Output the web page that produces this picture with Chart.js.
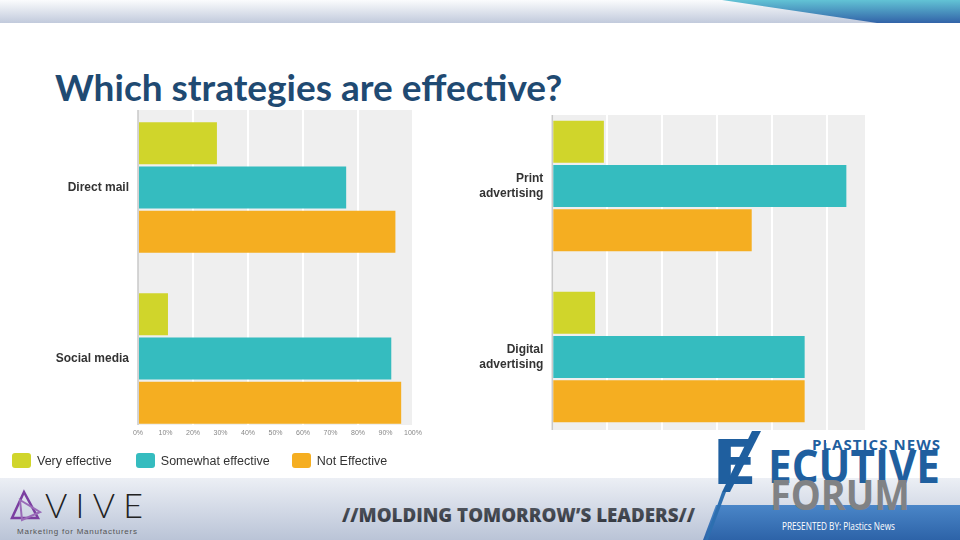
<!DOCTYPE html>
<html>
<head>
<meta charset="utf-8">
<script src="https://cdn.jsdelivr.net/npm/chart.js@4.4.0/dist/chart.umd.min.js"></script>
<style>
  html, body { margin: 0; padding: 0; }
  body { width: 960px; height: 540px; position: relative; overflow: hidden; background: #fff; font-family: "Liberation Sans", Arial, sans-serif; }
  #topband { position: absolute; left: 0; top: 0; width: 960px; height: 23px; background: linear-gradient(#fbfcfd, #c1cadc); }
  #title { position: absolute; left: 55px; top: 64px; font-family: Lato, "Open Sans", sans-serif; font-weight: 700; font-size: 37px; color: #1f4a72; white-space: nowrap; }
  #bottomband { position: absolute; left: 0; top: 478px; width: 960px; height: 62px; background: linear-gradient(#eceff5, #bac4d7); }
  #legend { position: absolute; left: 12px; top: 452px; height: 17px; display: flex; align-items: center; font-size: 12.5px; color: #333; }
  #legend .item { display: flex; align-items: center; }
  #legend .box { width: 19px; height: 15px; border-radius: 3px; margin-right: 6px; }
  canvas { position: absolute; }
  svg { position: absolute; left: 0; top: 0; }
</style>
</head>
<body>
<div id="topband"></div>
<div id="bottomband"></div>
<svg width="960" height="540">
  <defs>
    <linearGradient id="topblue" x1="0" y1="0" x2="0" y2="1">
      <stop offset="0" stop-color="#62c3d5"/>
      <stop offset="1" stop-color="#3263a8"/>
    </linearGradient>
    <linearGradient id="barblue" x1="0" y1="0" x2="0" y2="1">
      <stop offset="0" stop-color="#4a86c8"/>
      <stop offset="1" stop-color="#2d63a8"/>
    </linearGradient>
    <linearGradient id="slogan" x1="0" y1="0" x2="0" y2="1">
      <stop offset="0" stop-color="#5a5f68"/>
      <stop offset="1" stop-color="#2c3038"/>
    </linearGradient>
  </defs>
  <polygon points="722,0 960,0 960,23 877,23" fill="url(#topblue)"/>

  <!-- VIVE logo -->
  <polygon points="24,492 38,518 12,518" fill="none" stroke="#7b3fa0" stroke-width="2.5"/>
  <polygon points="20,500 40,512 22,520" fill="none" stroke="#9a6bb8" stroke-width="2"/>
  <text x="45" y="518" font-family="Lato, 'Open Sans', sans-serif" font-weight="300" font-size="34" fill="#222" textLength="98" lengthAdjust="spacing">VIVE</text>
  <text x="17" y="534" font-family="'Liberation Sans', Arial, sans-serif" font-size="8" fill="#555" textLength="120" lengthAdjust="spacing">Marketing for Manufacturers</text>

  <!-- slogan -->
  <text x="342" y="522" font-family="'Open Sans', sans-serif" font-weight="800" font-size="20" fill="url(#slogan)" textLength="353" lengthAdjust="spacingAndGlyphs">//MOLDING TOMORROW’S LEADERS//</text>

  <!-- Executive Forum logo -->
  <polygon points="716,505 960,505 960,540 703,540" fill="url(#barblue)"/>
  <text x="782" y="530" font-family="'Open Sans', sans-serif" font-size="10" fill="#fff" textLength="113" lengthAdjust="spacingAndGlyphs">PRESENTED BY:  Plastics News</text>
  <text x="812" y="450" font-family="'Open Sans', sans-serif" font-weight="700" font-size="15" fill="#1f5f9f" textLength="128" lengthAdjust="spacing">PLASTICS NEWS</text>
  <text x="711" y="484" font-family="'Open Sans', sans-serif" font-weight="700" font-size="62" fill="#1f5f9f" textLength="46" lengthAdjust="spacingAndGlyphs">E</text>
  <text x="768" y="483" font-family="'Open Sans', sans-serif" font-weight="700" font-size="47" fill="#1f5f9f" textLength="172" lengthAdjust="spacingAndGlyphs">ECUTIVE</text>
  <text x="770" y="510" font-family="'Open Sans', sans-serif" font-weight="700" font-size="42" fill="#808285" textLength="140" lengthAdjust="spacingAndGlyphs">FORUM</text>
  <polygon points="752,431 761,431 730,492 722,492" fill="#1f5f9f"/>
  <polygon points="722,492 726,492 708,540 705,540" fill="#2d6fb0"/>
</svg>
<div id="title">Which strategies are effective?</div>
<canvas id="leftChart" width="440" height="370" style="left:0px; top:90px;"></canvas>
<canvas id="rightChart" width="430" height="370" style="left:450px; top:90px;"></canvas>
<div id="legend"></div>

<script>
  var series = ["Very effective", "Somewhat effective", "Not Effective"];
  var colors = ["#d0d52b", "#35bcbf", "#f5ae21"];

  var leftCategories = ["Direct mail", "Social media"];
  var leftVery = [28.7, 10.9];
  var leftSomewhat = [75.7, 92.1];
  var leftNot = [93.6, 95.7];

  var rightCategories = [["Print", "advertising"], ["Digital", "advertising"]];
  var rightVery = [18.8, 15.6];
  var rightSomewhat = [107.2, 92.0];
  var rightNot = [72.7, 92.0];

  var leftTickStep = 10;   // 0% .. 100%
  var gridStep = 20;

  /* legend */
  var legend = document.getElementById("legend");
  var gaps = [0, 24, 22];
  series.forEach(function(name, i) {
    var item = document.createElement("div");
    item.className = "item";
    item.style.marginLeft = gaps[i] + "px";
    item.innerHTML = '<div class="box" style="background:' + colors[i] + '"></div><span>' + name + '</span>';
    legend.appendChild(item);
  });

  /* grey plot panel + left axis line */
  var panel = {
    id: "panel",
    beforeDraw: function(chart, args, opts) {
      var a = chart.chartArea, c = chart.ctx;
      c.save();
      c.fillStyle = "#efefef";
      c.fillRect(a.left, a.top + opts.top, a.right - a.left, a.bottom - a.top - opts.top - opts.bottom);
      c.restore();
    },
    beforeDatasetsDraw: function(chart, args, opts) {
      var a = chart.chartArea, c = chart.ctx;
      c.save();
      c.strokeStyle = "#c9c9c9";
      c.lineWidth = 1.5;
      c.beginPath();
      c.moveTo(a.left, a.top + opts.top);
      c.lineTo(a.left, a.bottom - opts.bottom);
      c.stroke();
      c.restore();
    }
  };

  function makeSets(a, b, d) {
    return [a, b, d].map(function(vals, i) {
      return {
        label: series[i],
        data: vals,
        backgroundColor: colors[i],
        borderWidth: 0,
        categoryPercentage: 0.778,
        barPercentage: 0.948
      };
    });
  }

  function gridColor(ctx) {
    var v = ctx.tick ? ctx.tick.value : 0;
    return (v > 0 && v % gridStep === 0) ? "#ffffff" : "rgba(0,0,0,0)";
  }

  function fixWidth(w) {
    return function(s) { s.width = w; s.paddingTop = 0; s.paddingBottom = 0; };
  }
  function fixHeight(h) {
    return function(s) { s.height = h; s.paddingLeft = 0; s.paddingRight = 0; };
  }

  var catFont = { family: "'Liberation Sans', Arial, sans-serif", size: 12, weight: "bold" };

  /*left chart*/
  new Chart(document.getElementById("leftChart").getContext("2d"), {
    type: "bar",
    data: { labels: leftCategories, datasets: makeSets(leftVery, leftSomewhat, leftNot) },
    plugins: [panel],
    options: {
      indexAxis: "y",
      responsive: false,
      animation: false,
      layout: { padding: { top: 12, right: 27, left: 0, bottom: 0 } },
      plugins: { legend: { display: false }, tooltip: { enabled: false }, panel: { top: 8, bottom: 19 } },
      scales: {
        x: {
          min: 0, max: 100,
          afterFit: fixHeight(16),
          border: { display: false },
          grid: { color: gridColor, lineWidth: 2, drawTicks: false },
          ticks: {
            stepSize: leftTickStep, mirror: true, padding: 7, color: "#888",
            maxRotation: 0, autoSkip: false,
            font: { family: "'Liberation Sans', Arial, sans-serif", size: 7 },
            callback: function(v) { return v + "%"; }
          }
        },
        y: {
          afterFit: fixWidth(138),
          border: { display: false },
          grid: { display: false, drawTicks: false },
          ticks: { color: "#333", font: catFont, padding: 9 }
        }
      }
    }
  });

  /*right chart*/
  new Chart(document.getElementById("rightChart").getContext("2d"), {
    type: "bar",
    data: { labels: rightCategories, datasets: makeSets(rightVery, rightSomewhat, rightNot) },
    plugins: [panel],
    options: {
      indexAxis: "y",
      responsive: false,
      animation: false,
      layout: { padding: { top: 10.5, right: 15, left: 0, bottom: 0 } },
      plugins: { legend: { display: false }, tooltip: { enabled: false }, panel: { top: 14.5, bottom: 12.5 } },
      scales: {
        x: {
          min: 0, max: 114,
          afterFit: fixHeight(17.5),
          border: { display: false },
          grid: { color: gridColor, lineWidth: 2, drawTicks: false },
          ticks: { display: false, stepSize: gridStep }
        },
        y: {
          afterFit: fixWidth(102.3),
          border: { display: false },
          grid: { display: false, drawTicks: false },
          ticks: { color: "#333", font: catFont, padding: 9 }
        }
      }
    }
  });
</script>
</body>
</html>
